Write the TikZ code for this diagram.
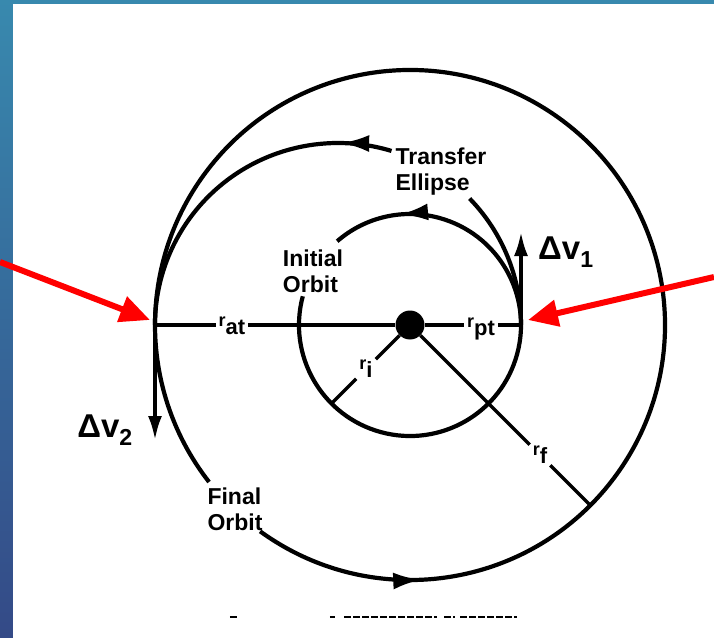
\documentclass[tikz,border=0pt]{standalone}
\usepackage{fontspec}
\setmainfont{Liberation Sans}
\usetikzlibrary{arrows.meta,decorations.markings}

\definecolor{bartop}{HTML}{3889AE}
\definecolor{barbot}{HTML}{344A87}
\definecolor{arrowred}{HTML}{FF0000}

\newcommand{\radlabel}[1]{\raisebox{8pt}{\fontsize{18}{18}\selectfont r}#1}

\tikzset{
  orbit/.style={line width=4.2pt},
  radial/.style={line width=3.4pt},
  flow/.style={postaction={decorate},
    decoration={markings,mark=at position #1 with {\arrow{Latex[length=28pt,width=17pt]}}}},
  orbitlabel/.style={font=\bfseries\fontsize{23}{26}\selectfont, align=left, inner sep=0pt},
  rlabel/.style={font=\bfseries\fontsize{22}{22}\selectfont, inner sep=3pt},
  dvlabel/.style={font=\bfseries\fontsize{33}{33}\selectfont, inner sep=0pt},
  burn/.style={line width=3.4pt, -{Latex[length=24pt,width=14pt]}},
  pointer/.style={draw=arrowred, line width=6pt, -{Triangle[length=30pt,width=26pt]}},
  scanline/.style={line width=2pt, dash pattern=on 7pt off 2pt},
}

\begin{document}
\begin{tikzpicture}[x=1pt,y=1pt]
    % frame
    \useasboundingbox (-410,-312) rectangle (304,325);
    \fill[white] (-410,-312) rectangle (304,325);
    \shade[top color=bartop,bottom color=barbot] (-410,-312) rectangle (-397,325);
    \fill[bartop] (-410,321) rectangle (304,325);

    % points
    \node [circle,fill,inner sep=0pt,minimum size=29pt] (sun) at (0,0) {};
    \coordinate (peri) at (111,0);
    \coordinate (apo) at (-255,0);
    \coordinate (rimi) at (225:111);
    \coordinate (rimf) at (-45:255);

    % orbits
    \draw[orbit,flow=0.89] (165:111) arc[start angle=165,end angle=491,radius=111];
    \draw[orbit,flow=0.112] (234:255) arc[start angle=234,end angle=578,radius=255];
    \draw[orbit] (peri) arc[start angle=0,end angle=44,x radius=183,y radius=182];
    \draw[orbit,flow=0.15] ([shift={(-72,0)}]73:183 and 182)
        arc[start angle=73,end angle=180,x radius=183,y radius=182];

    % labels
    \node [orbitlabel] (transfer) at (31,153) {Transfer\\Ellipse};
    \node [orbitlabel] (initial) at (-97,54) {Initial\\Orbit};
    \node [orbitlabel] (final) at (-175,-184) {Final\\Orbit};

    % radii
    \node [rlabel] (rat) at (-178,-1) {\radlabel{at}};
    \node [rlabel] (rpt) at (71,-4) {\radlabel{pt}};
    \node [rlabel] (ri) at (-44,-44) {\radlabel{i}};
    \node [rlabel] (rf) at (130,-130) {\radlabel{f}};
    \draw[radial] (apo) -- (rat.west |- apo) (rat.east |- apo) -- (sun);
    \draw[radial] (sun) -- (rpt.west |- sun) (rpt.east |- peri) -- (peri);
    \draw[radial] (sun) -- (ri) -- (rimi);
    \draw[radial] (sun) -- (rf) -- (rimf);

    % burns
    \draw[burn] (peri) -- ++(0,93) coordinate (dv1tip);
    \draw[burn] (apo) -- ++(0,-115) coordinate (dv2tip);
    \node [dvlabel,anchor=west] (dv1) at (128,73) {Δv\textsubscript{1}};
    \node [dvlabel,anchor=east] (dv2) at (-277,-105) {Δv\textsubscript{2}};

    % red pointers
    \coordinate (lefttail) at (-410,63);
    \coordinate (lefttip) at (-260,5);
    \coordinate (righttail) at (304,48);
    \coordinate (righttip) at (118,5);
    \draw[pointer] (lefttail) -- (lefttip);
    \draw[pointer] (righttail) -- (righttip);

    % scan marks
    \draw[scanline] (-180,-292) -- (-171,-292);
    \draw[scanline] (-80,-292) -- (-75,-292);
    \draw[scanline] (-66,-292) -- (27,-292);
    \draw[scanline] (34,-292) -- (45,-292);
    \draw[scanline] (50,-292) -- (107,-292);
\end{tikzpicture}
\end{document}
